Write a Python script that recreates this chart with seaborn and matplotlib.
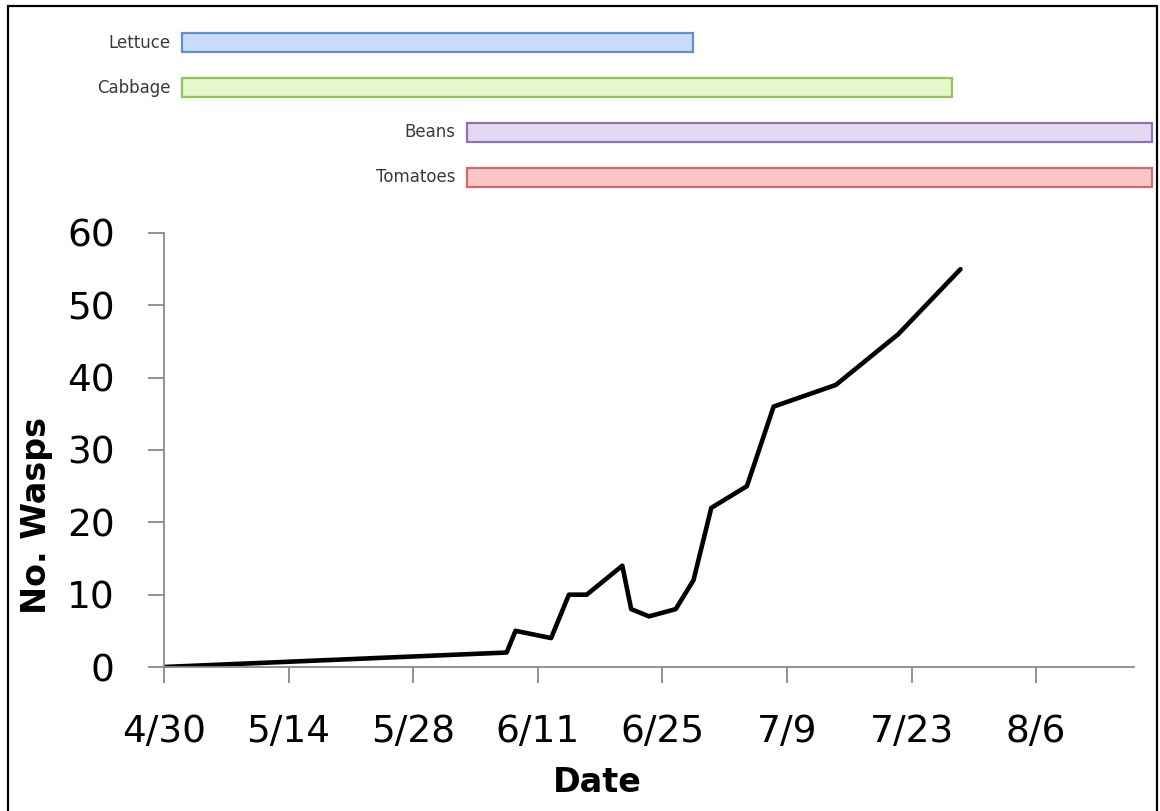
import matplotlib
matplotlib.use("Agg")
import matplotlib.pyplot as plt
import matplotlib.dates as mdates
from matplotlib.patches import Rectangle
import numpy as np
import pandas as pd
import seaborn as sns

# ---------------- data ----------------
sample_dates = ["2013-04-30 00:00", "2013-06-07 12:00", "2013-06-08 12:00", "2013-06-12 12:00",
                "2013-06-14 12:00", "2013-06-16 12:00", "2013-06-20 12:00", "2013-06-21 12:00",
                "2013-06-23 12:00", "2013-06-26 12:00", "2013-06-28 12:00", "2013-06-30 12:00",
                "2013-07-04 12:00", "2013-07-07 12:00", "2013-07-14 12:00", "2013-07-21 12:00",
                "2013-07-28 12:00"]
wasps = [0, 2, 5, 4, 10, 10, 14, 8, 7, 8, 12, 22, 25, 36, 39, 46, 55]

crops = ["Lettuce", "Cabbage", "Beans", "Tomatoes"]
crop_start = ["2013-05-02", "2013-05-02", "2013-06-03", "2013-06-03"]
crop_end = ["2013-06-28 12:00", "2013-07-27 12:00", "2013-08-19", "2013-08-19"]
crop_fill = ["#c8dbf7", "#e5f8cb", "#e3d9f1", "#fbc6c6"]
crop_edge = ["#5f8fd2", "#93c35a", "#8d70b8", "#d36a6a"]

tick_dates = ["2013-04-30", "2013-05-14", "2013-05-28", "2013-06-11",
              "2013-06-25", "2013-07-09", "2013-07-23", "2013-08-06"]
tick_labels = ["4/30", "5/14", "5/28", "6/11", "6/25", "7/9", "7/23", "8/6"]
y_ticks = [0, 10, 20, 30, 40, 50, 60]
x_range = ["2013-04-30", "2013-08-17"]

# ---------------- style ----------------
sns.set_style("white")
plt.rcParams["font.family"] = ["DejaVu Sans"]

W, H = 1160, 811
fig = plt.figure(figsize=(W / 100, H / 100), dpi=100)

def px_axes(left, top, right, bottom):
    return fig.add_axes([left / W, 1 - bottom / H, (right - left) / W, (bottom - top) / H])

ax = px_axes(164, 233, 1134, 667)
axg = px_axes(164, 20.6, 1134, 199.4)

df = pd.DataFrame({"date": pd.to_datetime(sample_dates), "wasps": wasps})
sns.lineplot(data=df, x="date", y="wasps", ax=ax, color="black", linewidth=3.3,
             solid_joinstyle="round", solid_capstyle="round")

xlim = [mdates.date2num(pd.Timestamp(d)) for d in x_range]
ax.set_xlim(*xlim)
ax.set_ylim(0, 60)
ax.set_xticks([mdates.date2num(pd.Timestamp(d)) for d in tick_dates])
ax.set_xticklabels(tick_labels)
ax.set_yticks(y_ticks)
ax.set_yticklabels([str(v) for v in y_ticks])

gray = "#8a8a8a"
for s in ["top", "right"]:
    ax.spines[s].set_visible(False)
for s in ["left", "bottom"]:
    ax.spines[s].set_color(gray)
    ax.spines[s].set_linewidth(1.3)
ax.tick_params(axis="both", which="major", direction="out", length=11.5, width=1.3,
               color=gray, labelsize=27, labelcolor="black")
ax.tick_params(axis="x", pad=22, bottom=True)
ax.tick_params(axis="y", pad=24, left=True)
ax.grid(False)

ax.set_xlabel("Date", fontsize=24, fontweight="bold", color="black")
ax.set_ylabel("No. Wasps", fontsize=24, fontweight="bold", color="black")
ax.xaxis.set_label_coords((597 - 164) / 970, (667 - 766) / 434)
ax.yaxis.set_label_coords((53 - 164) / 970, (667 - 515) / 434)

# ---------------- crop timeline ----------------
axg.set_xlim(*xlim)
axg.set_ylim(len(crops) - 0.5, -0.5)
axg.set_axis_off()
for i, crop in enumerate(crops):
    s = mdates.date2num(pd.Timestamp(crop_start[i]))
    e = mdates.date2num(pd.Timestamp(crop_end[i]))
    axg.barh(i, e - s, left=s, height=0.425, color=crop_fill[i],
             edgecolor=crop_edge[i], linewidth=1.6, clip_on=False)
    axg.annotate(crop, xy=(s, i), xytext=(-8, 0), textcoords="offset points",
                 ha="right", va="center", fontsize=12, color="#3a3a3a")

# outer frame
fig.patches.append(Rectangle((8 / W, -0.02), (1157 - 8) / W, 1.02 - 6 / H,
                             transform=fig.transFigure, fill=False,
                             edgecolor="black", linewidth=1.6))

fig.savefig("out.png", dpi=100)
